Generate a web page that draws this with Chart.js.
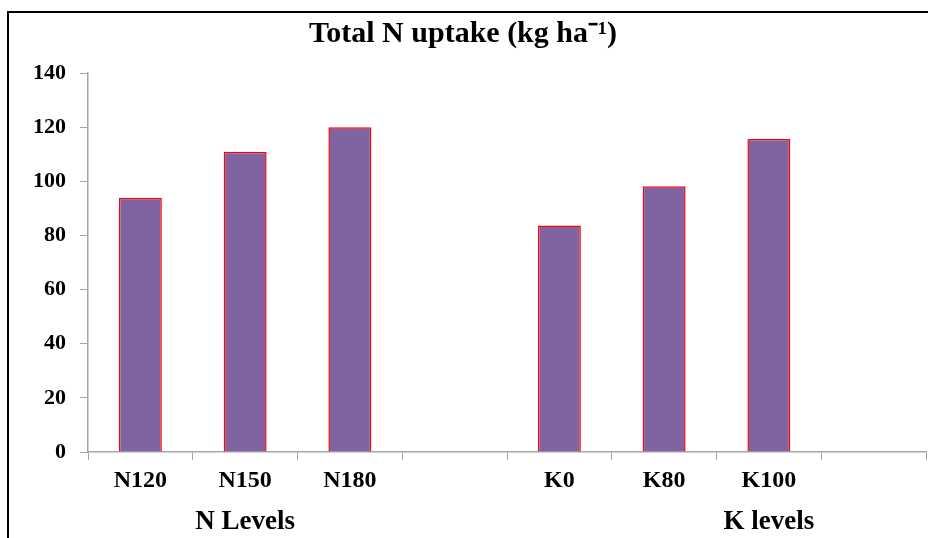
<!DOCTYPE html>
<html>
<head>
  <title>Total N uptake</title>
  <meta charset="UTF-8" />
  <script src="https://cdn.jsdelivr.net/npm/chart.js"></script>
  <style>
    html, body { margin: 0; padding: 0; background: #fff; overflow: hidden; }
    .wrap { position: relative; width: 928px; height: 538px; }
    .frame {
      position: absolute; left: 7px; top: 11px;
      width: 1000px; height: 1000px;
      border: 2px solid #000;
    }
    #chart { position: absolute; left: 0; top: 0; }
  </style>
</head>
<body>
  <div class="wrap">
    <div class="frame"></div>
    <canvas id="chart" width="928" height="538"></canvas>
  </div>

  <script>
    const categories = ['N120', 'N150', 'N180', '', 'K0', 'K80', 'K100', ''];
    const uptake = [93.9, 110.9, 120.0, null, 83.7, 98.2, 115.6, null];
    const groupLabels = ['N Levels', 'K levels'];
    const groupAt = [1, 6];   // category index each group label sits under

    const serif = '"Liberation Serif", "Times New Roman", serif';
    const axisGrey = '#a6a6a6';

    // group captions under the category labels
    const groupLabelPlugin = {
      id: 'groupLabels',
      afterDraw(chart) {
        const ctx = chart.ctx;
        const x = chart.scales.x;
        ctx.save();
        ctx.font = 'bold 27px ' + serif;
        ctx.fillStyle = '#000';
        ctx.textAlign = 'center';
        ctx.textBaseline = 'middle';
        groupLabels.forEach((g, i) => {
          ctx.fillText(g, x.getPixelForValue(groupAt[i]), x.bottom - 16);
        });
        ctx.restore();
      }
    };

    new Chart(document.getElementById('chart'), {
      type: 'bar',
      data: {
        labels: categories,
        datasets: [{
          data: uptake,
          backgroundColor: '#8064A2',
          borderColor: '#FF0000',
          borderWidth: 1.5,
          barPercentage: 0.41,
          categoryPercentage: 1
        }]
      },
      options: {
        responsive: false,
        animation: false,
        devicePixelRatio: 1,
        layout: { padding: { top: 3, right: 2, left: 0, bottom: 0 } },
        plugins: {
          legend: { display: false },
          tooltip: { enabled: false },
          title: {
            display: true,
            text: 'Total N uptake (kg ha⁻¹)',
            color: '#000',
            font: { family: serif, size: 30, weight: 'bold', lineHeight: 1.2 },
            padding: { top: 13, bottom: 21 }
          }
        },
        scales: {
          x: {
            offset: true,
            grid: {
              offset: true,
              drawOnChartArea: false,
              tickLength: 8,
              color: axisGrey
            },
            border: { color: axisGrey, width: 1.5 },
            ticks: {
              color: '#000',
              padding: 6,
              font: { family: serif, size: 24, weight: 'bold' },
              maxRotation: 0,
              autoSkip: false
            },
            afterFit: s => { s.height = 86; }
          },
          y: {
            min: 0,
            max: 140,
            ticks: {
              stepSize: 20,
              color: '#000',
              padding: 14,
              font: { family: serif, size: 22, weight: 'bold' }
            },
            grid: {
              drawOnChartArea: false,
              tickLength: 8,
              color: axisGrey
            },
            border: { color: axisGrey, width: 1.5 },
            afterFit: s => { s.width = 88; }
          }
        }
      },
      plugins: [groupLabelPlugin]
    });
  </script>
</body>
</html>
